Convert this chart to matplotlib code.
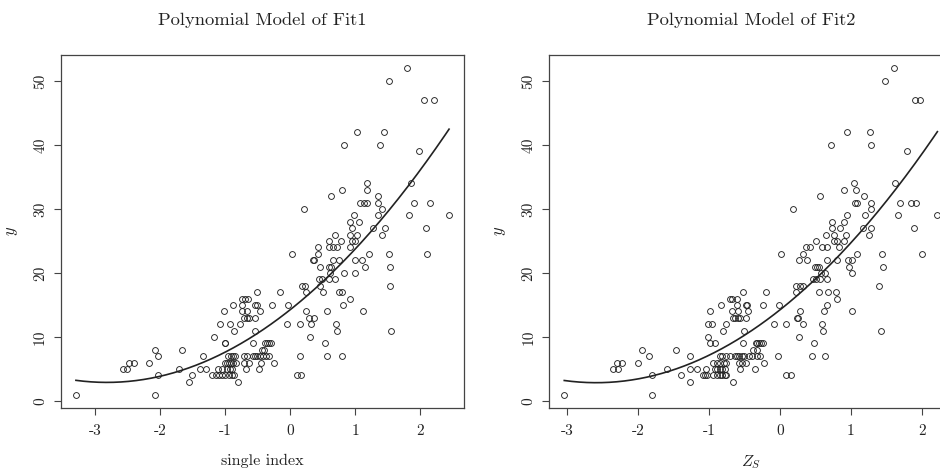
import matplotlib
matplotlib.use('Agg')
import matplotlib.pyplot as plt
import numpy as np

plt.rcParams['font.family'] = ['cmr10', 'DejaVu Serif']
plt.rcParams['mathtext.fontset'] = 'cm'
plt.rcParams['axes.unicode_minus'] = False
plt.rcParams['axes.formatter.use_mathtext'] = False

# values, grouped by response level y
left_pts = {
    1: [-3.30, -2.08],
    3: [-1.56, -0.81],
    4: [-2.03, -1.52, -1.20, -1.15, -1.10, -1.05, -1.00, -0.95, -0.90, -0.87, 0.10, 0.17],
    5: [-2.57, -2.52, -1.72, -1.39, -1.30, -1.11, -1.06, -0.98, -0.93, -0.90, -0.68, -0.49],
    6: [-2.48, -2.41, -2.17, -1.01, -0.98, -0.94, -0.91, -0.88, -0.83, -0.71, -0.64, -0.46, -0.26],
    7: [-2.04, -1.35, -0.96, -0.92, -0.88, -0.85, -0.71, -0.67, -0.58, -0.55, -0.52, -0.47,
        -0.42, -0.37, -0.33, 0.14, 0.56, 0.79],
    8: [-2.08, -1.67, -0.44, -0.41],
    9: [-1.01, -1.00, -0.57, -0.39, -0.36, -0.33, -0.30, 0.53],
    10: [-1.17, 0.30],
    11: [-0.87, -0.55, 0.71, 1.54],
    12: [-1.08, -0.93, -0.77, -0.06, 0.14, 0.32, 0.70],
    13: [-0.71, -0.67, -0.63, -0.54, 0.29, 0.36],
    14: [-1.02, -0.74, -0.67, -0.47, 0.24, 0.56, 1.12],
    15: [-0.88, -0.75, -0.54, -0.52, -0.28, -0.04, 0.81],
    16: [-0.74, -0.70, -0.65, 0.91],
    17: [-0.52, -0.16, 0.24, 0.50, 0.75, 0.79],
    18: [0.18, 0.23, 0.45, 1.53],
    19: [0.44, 0.48, 0.60, 0.68],
    20: [0.61, 0.83, 0.99],
    21: [0.45, 0.60, 0.63, 1.14, 1.53],
    22: [0.34, 0.37, 0.65, 0.75, 1.00, 1.10],
    23: [0.02, 0.42, 1.21, 1.51, 2.10],
    24: [0.43, 0.60, 0.65, 0.71, 0.91],
    25: [0.60, 0.77, 0.94, 1.00],
    26: [0.69, 0.91, 1.02, 1.41],
    27: [0.94, 1.27, 1.46, 2.09],
    28: [0.91, 1.06],
    29: [0.98, 1.34, 1.82, 2.44],
    30: [0.21, 1.41],
    31: [1.07, 1.13, 1.18, 1.34, 1.90, 2.14],
    32: [0.63, 1.34],
    33: [0.79, 1.18],
    34: [1.18, 1.85],
    39: [1.98],
    40: [0.83, 1.37],
    42: [1.02, 1.44],
    47: [2.05, 2.21],
    50: [1.52],
    52: [1.79],
}

right_pts = {
    1: [-3.04, -1.80],
    3: [-1.27, -0.66],
    4: [-1.80, -1.40, -1.09, -1.06, -1.03, -0.94, -0.89, -0.85, -0.81, -0.78, -0.76, 0.08, 0.16],
    5: [-2.35, -2.28, -1.59, -1.27, -1.17, -1.04, -0.92, -0.88, -0.85, -0.81, -0.77, -0.56, -0.35],
    6: [-2.29, -2.22, -2.00, -0.94, -0.89, -0.84, -0.79, -0.76, -0.57, -0.53, -0.48, -0.22],
    7: [-1.84, -1.27, -0.85, -0.81, -0.76, -0.71, -0.64, -0.61, -0.57, -0.54, -0.50,
        -0.43, -0.40, -0.32, -0.28, -0.03, 0.45, 0.63],
    8: [-1.94, -1.47, -0.38, -0.32],
    9: [-0.98, -0.92, -0.52, -0.34, -0.32, -0.29, -0.27, -0.24, 0.48],
    10: [-1.01, 0.27],
    11: [-0.80, -0.50, 0.61, 1.42],
    12: [-1.02, -0.96, -0.76, -0.09, 0.09, 0.32, 0.60],
    13: [-0.66, -0.63, -0.59, -0.56, -0.48, 0.24, 0.26],
    14: [-0.98, -0.68, -0.59, -0.45, 0.28, 0.62, 1.01],
    15: [-0.83, -0.61, -0.48, -0.46, -0.24, -0.01, 0.67],
    16: [-0.70, -0.68, -0.61, 0.81],
    17: [-0.52, -0.20, 0.22, 0.55, 0.68, 0.79],
    18: [0.22, 0.28, 0.32, 1.40],
    19: [0.47, 0.51, 0.56, 0.67],
    20: [0.58, 0.63, 1.01],
    21: [0.49, 0.52, 0.55, 0.98, 1.46],
    22: [0.27, 0.38, 0.67, 0.81, 0.96, 1.02],
    23: [0.01, 0.32, 1.09, 1.44, 2.01],
    24: [0.37, 0.43, 0.59, 0.67, 0.84],
    25: [0.51, 0.76, 0.80, 0.91],
    26: [0.65, 0.76, 0.93, 1.25],
    27: [0.73, 0.85, 1.17, 1.29, 1.89],
    28: [0.73, 0.90],
    29: [0.94, 1.20, 1.66, 2.22],
    30: [0.18, 1.28],
    31: [1.06, 1.09, 1.29, 1.69, 1.85, 1.92],
    32: [0.56, 1.19],
    33: [0.91, 1.07],
    34: [1.04, 1.62],
    39: [1.79],
    40: [0.72, 1.29],
    42: [0.94, 1.27],
    47: [1.90, 1.97],
    50: [1.48],
    52: [1.61],
}

titles = ['Polynomial Model of Fit1', 'Polynomial Model of Fit2']
xlabels = ['single index', '$Z_S$']
ylabel = '$y$'

def flatten(d):
    xs, ys = [], []
    for yv, xl in d.items():
        xs += xl
        ys += [yv] * len(xl)
    return np.array(xs), np.array(ys, dtype=float)

col = '#222222'
fig = plt.figure(figsize=(9.4, 4.7), dpi=100)
lefts = [0.0649, 0.5844]

for i, d in enumerate([left_pts, right_pts]):
    x, y = flatten(d)
    ax = fig.add_axes([lefts[i], 0.1326, 0.4287, 0.7504])
    ax.plot(x, y, 'o', mfc='none', mec=col, ms=4.2, mew=0.65)
    coef = np.polyfit(x, y, 2)
    xx = np.linspace(x.min(), x.max(), 200)
    ax.plot(xx, np.polyval(coef, xx), color=col, lw=1.2)
    rx = x.max() - x.min()
    ry = y.max() - y.min()
    ax.set_xlim(x.min() - 0.04 * rx, x.max() + 0.04 * rx)
    ax.set_ylim(y.min() - 0.04 * ry, y.max() + 0.04 * ry)
    ax.set_xticks([-3, -2, -1, 0, 1, 2])
    ax.set_yticks([0, 10, 20, 30, 40, 50])
    for s in ax.spines.values():
        s.set_color('#444444')
        s.set_linewidth(0.9)
    ax.tick_params(direction='out', length=5, width=0.8, color='#444444',
                   labelsize=11, labelcolor=col, pad=7)
    ax.tick_params(axis='y', labelrotation=90, pad=5)
    for lb in ax.get_yticklabels():
        lb.set_va('center')
    ax.set_xlabel(xlabels[i], fontsize=11.6, color=col, labelpad=11)
    ax.set_ylabel(ylabel, fontsize=12, color=col, labelpad=10)
    ax.text(0.5, 1.0 + 35 / 352.7, titles[i], transform=ax.transAxes,
            ha='center', va='center', fontsize=13.4, color=col)

fig.savefig('out.png', dpi=100)
